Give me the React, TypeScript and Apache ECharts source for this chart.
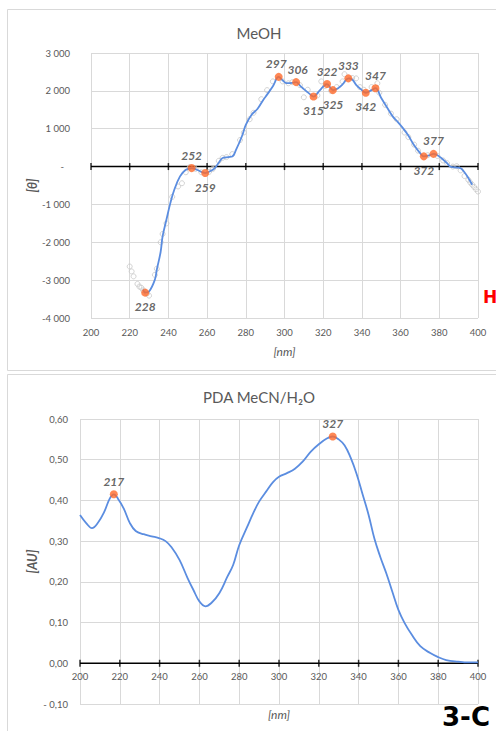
import React, { useEffect, useRef } from 'react';
import * as echarts from 'echarts';

// ---------- data ----------
const xTicks = [200, 220, 240, 260, 280, 300, 320, 340, 360, 380, 400];

// MeOH CD curve (smoothed, blue)
const meohCurveNm = [227, 228, 230, 233, 234, 236, 237, 239, 241, 243, 246, 249, 252, 255, 259, 262, 264, 266, 268, 271, 273, 275, 278, 280, 283, 286, 289, 291, 294, 297, 299, 301, 304, 306, 308, 310, 313, 315, 318, 320, 322, 325, 328, 330, 333, 335, 337, 340, 342, 345, 347, 350, 353, 356, 358, 361, 364, 367, 370, 372, 375, 377, 379, 381, 384, 386, 389, 391, 393, 395, 397];
const meohCurveVal = [-3250, -3330, -3300, -2990, -2725, -2250, -1845, -1400, -965, -620, -260, -85, -40, -90, -170, -110, -40, 100, 225, 250, 265, 445, 800, 1100, 1370, 1520, 1760, 1900, 2120, 2370, 2280, 2205, 2210, 2230, 2140, 2045, 1920, 1850, 2000, 2110, 2180, 2020, 2080, 2170, 2330, 2300, 2160, 2020, 1950, 2020, 2070, 1810, 1560, 1320, 1210, 1030, 820, 560, 360, 270, 300, 335, 300, 225, 90, -10, -25, -40, -150, -300, -480];

// MeOH raw data points (grey hollow circles)
const meohRawNm = [220, 221, 222, 224, 225, 226, 227, 229, 230, 233, 234, 236, 237, 239, 242, 245, 247, 249, 251, 254, 257, 261, 263, 266, 268, 270, 273, 277, 279, 282, 284, 288, 291, 294, 299, 302, 304, 308, 310, 312, 317, 319, 321, 324, 327, 330, 331, 335, 337, 339, 341, 345, 348, 349, 352, 355, 358, 362, 364, 367, 369, 374, 379, 382, 384, 387, 389, 391, 393, 395, 396, 397, 398, 399, 400];
const meohRawVal = [-2640, -2770, -2900, -3100, -3170, -3200, -3270, -3350, -3410, -2860, -2700, -2000, -1780, -1500, -800, -525, -440, -150, -20, -60, -150, -140, -60, 150, 230, 250, 330, 700, 900, 1250, 1420, 1780, 2020, 2250, 2250, 2200, 2230, 2150, 1830, 2030, 1880, 2250, 2130, 2000, 2100, 2250, 2440, 2340, 2330, 2100, 2030, 2100, 2200, 1950, 1630, 1400, 1250, 900, 780, 580, 420, 300, 280, 160, 90, 0, 10, -100, -250, -350, -420, -480, -540, -600, -660];

// MeOH labelled extrema
const meohPeakNm = [228, 252, 259, 297, 306, 315, 322, 325, 333, 342, 347, 372, 377];
const meohPeakVal = [-3330, -40, -170, 2370, 2230, 1850, 2180, 2020, 2330, 1950, 2070, 270, 335];
const meohPeakPos = ['bottom', 'top', 'bottom', 'top', 'top', 'bottom', 'top', 'bottom', 'top', 'bottom', 'top', 'bottom', 'top'];

// PDA absorbance curve
const pdaNm = [200, 203, 206, 209, 212, 215, 217, 219, 222, 225, 228, 232, 236, 240, 243, 246, 250, 254, 257, 260, 263, 266, 270, 274, 277, 280, 284, 287, 290, 294, 297, 300, 304, 308, 312, 316, 320, 324, 327, 330, 333, 336, 339, 342, 345, 348, 351, 354, 357, 360, 363, 367, 371, 376, 380, 384, 390, 395, 400];
const pdaAu = [0.364, 0.345, 0.332, 0.345, 0.370, 0.405, 0.415, 0.405, 0.380, 0.345, 0.325, 0.317, 0.312, 0.307, 0.300, 0.285, 0.254, 0.210, 0.180, 0.152, 0.140, 0.148, 0.172, 0.212, 0.242, 0.290, 0.335, 0.368, 0.397, 0.425, 0.445, 0.458, 0.467, 0.478, 0.496, 0.520, 0.538, 0.552, 0.557, 0.550, 0.535, 0.505, 0.465, 0.415, 0.365, 0.305, 0.260, 0.220, 0.175, 0.131, 0.100, 0.068, 0.042, 0.025, 0.015, 0.008, 0.004, 0.002, 0.002];

const pdaPeakNm = [217, 327];
const pdaPeakAu = [0.415, 0.557];

// ---------- styles ----------
const FONT = 'Lato, "Open Sans", sans-serif';
const GREY_TEXT = '#595959';
const GRID = '#d9d9d9';
const BLUE = '#5b8de0';
const ORANGE = '#ff6a2b';

const fmtTheta = (v: number) => {
  if (v === 0) return '{d|-}';
  const s = String(Math.abs(v)).replace(/\B(?=(\d{3})+(?!\d))/g, ' ');
  return (v < 0 ? '-' : '') + s;
};
const fmtAu = (v: number) => {
  const s = Math.abs(v).toFixed(2).replace('.', ',');
  return v < -1e-9 ? '- ' + s : s;
};

const peakLabel = (pos: string, dx = 0) => ({
  show: true,
  position: pos,
  distance: pos === 'top' ? 3 : 4,
  offset: [dx, 0],
  fontFamily: FONT,
  fontSize: 12,
  fontWeight: 'bold',
  fontStyle: 'italic',
  color: '#404040',
  formatter: (p: any) => String(p.value[0]),
});

// small horizontal nudges so neighbouring labels do not collide
const labelNudge = (nm: number) => (nm === 297 ? -2.5 : nm === 306 ? 1.5 : 0);

export default function App() {
  const ref = useRef<HTMLDivElement>(null);
  useEffect(() => {
    if (!ref.current) return;
    const chart = echarts.init(ref.current, undefined, { renderer: 'svg' });
    const axisLabel = { color: GREY_TEXT, fontFamily: FONT, fontSize: 9.5 };
    const xNameStyle = { color: GREY_TEXT, fontFamily: FONT, fontSize: 12, fontStyle: 'italic' };
    const yNameStyle = { color: GREY_TEXT, fontFamily: FONT, fontSize: 12.5, fontStyle: 'italic', fontWeight: 'bold' };

    chart.setOption({
      animation: false,
      backgroundColor: '#ffffff',
      title: [
        { text: 'MeOH', left: 254, top: 20, textAlign: 'center', textStyle: { color: GREY_TEXT, fontFamily: FONT, fontSize: 15, fontWeight: 'normal' } },
        { text: 'PDA MeCN/H₂O', left: 254, top: 384, textAlign: 'center', textStyle: { color: GREY_TEXT, fontFamily: FONT, fontSize: 15, fontWeight: 'normal' } },
      ],
      graphic: [
        { type: 'rect', shape: { x: 7.5, y: 9.5, width: 500, height: 361 }, style: { fill: 'none', stroke: GRID, lineWidth: 1 }, silent: true },
        { type: 'rect', shape: { x: 7.5, y: 374.5, width: 500, height: 370 }, style: { fill: 'none', stroke: GRID, lineWidth: 1 }, silent: true },
        { type: 'text', x: 483, y: 288, style: { text: 'H', fill: '#ff0000', font: 'bold 17px "DejaVu Sans", sans-serif' }, silent: true },
        { type: 'text', x: 442, y: 704, style: { text: '3-C', fill: '#000000', font: 'bold 26px "DejaVu Sans", sans-serif' }, silent: true },
      ],
      grid: [
        { left: 91, right: 18, top: 53, height: 265, outerBoundsMode: 'none', containLabel: false },
        { left: 80, right: 18, top: 419, height: 285, outerBoundsMode: 'none', containLabel: false },
      ],
      xAxis: [
        {
          gridIndex: 0, type: 'value', min: 200, max: 400, interval: 20,
          axisLine: { show: false, onZero: false }, axisTick: { show: false },
          axisLabel: { ...axisLabel, margin: 9 },
          splitLine: { show: true, lineStyle: { color: GRID, width: 1 } },
          name: '[nm]', nameLocation: 'middle', nameGap: 27, nameTextStyle: xNameStyle,
        },
        {
          gridIndex: 1, type: 'value', min: 200, max: 400, interval: 20,
          position: 'bottom', offset: -40.7,
          axisLine: { show: false, onZero: false }, axisTick: { show: false },
          axisLabel: { ...axisLabel, margin: 8 },
          splitLine: { show: true, lineStyle: { color: GRID, width: 1 } },
          name: '[nm]', nameLocation: 'middle', nameGap: 45, nameTextStyle: xNameStyle,
        },
      ],
      yAxis: [
        {
          gridIndex: 0, type: 'value', min: -4000, max: 3000, interval: 1000,
          axisLine: { show: false }, axisTick: { show: false },
          axisLabel: { ...axisLabel, margin: 21, formatter: fmtTheta, rich: { d: { color: GREY_TEXT, fontFamily: FONT, fontSize: 9.5, padding: [0, 6, 0, 0] } } },
          splitLine: { show: true, lineStyle: { color: GRID, width: 1 } },
          name: '[θ]', nameLocation: 'middle', nameGap: 52, nameMoveOverlap: false, nameTextStyle: yNameStyle,
        },
        {
          gridIndex: 1, type: 'value', min: -0.1, max: 0.6, interval: 0.1,
          axisLine: { show: false }, axisTick: { show: false },
          axisLabel: { ...axisLabel, margin: 12, formatter: fmtAu },
          splitLine: { show: true, lineStyle: { color: GRID, width: 1 } },
          name: '[AU]', nameLocation: 'middle', nameGap: 41, nameMoveOverlap: false, nameTextStyle: yNameStyle,
        },
      ],
      series: [
        // top: zero line and ticks
        {
          type: 'line', xAxisIndex: 0, yAxisIndex: 0, data: [[200, 0], [400, 0]],
          symbol: 'none', lineStyle: { color: '#000000', width: 1.5 }, silent: true, z: 3,
        },
        {
          type: 'scatter', xAxisIndex: 0, yAxisIndex: 0, data: xTicks.map((t) => [t, 0]),
          symbol: 'rect', symbolSize: [1.5, 7], itemStyle: { color: '#000000' }, silent: true, z: 3,
        },
        // top: raw points
        {
          type: 'scatter', xAxisIndex: 0, yAxisIndex: 0,
          data: meohRawNm.map((x, i) => [x, meohRawVal[i]]),
          symbol: 'circle', symbolSize: 5,
          itemStyle: { color: 'rgba(255,255,255,0)', borderColor: '#c8c8c8', borderWidth: 1 }, z: 4,
        },
        // top: smoothed curve
        {
          type: 'line', xAxisIndex: 0, yAxisIndex: 0,
          data: meohCurveNm.map((x, i) => [x, meohCurveVal[i]]),
          smooth: 0.4, symbol: 'none', lineStyle: { color: BLUE, width: 1.8 }, z: 5,
        },
        // top: extrema
        {
          type: 'scatter', xAxisIndex: 0, yAxisIndex: 0,
          data: meohPeakNm.map((x, i) => ({ value: [x, meohPeakVal[i]], label: peakLabel(meohPeakPos[i], labelNudge(x)) })),
          symbol: 'circle', symbolSize: 8, itemStyle: { color: ORANGE }, z: 6,
        },
        // bottom: zero line and ticks
        {
          type: 'line', xAxisIndex: 1, yAxisIndex: 1, data: [[200, 0], [400, 0]],
          symbol: 'none', lineStyle: { color: '#000000', width: 1.5 }, silent: true, z: 3,
        },
        {
          type: 'scatter', xAxisIndex: 1, yAxisIndex: 1, data: xTicks.map((t) => [t, 0]),
          symbol: 'rect', symbolSize: [1.5, 7], itemStyle: { color: '#000000' }, silent: true, z: 3,
        },
        // bottom: curve
        {
          type: 'line', xAxisIndex: 1, yAxisIndex: 1,
          data: pdaNm.map((x, i) => [x, pdaAu[i]]),
          smooth: 0.4, symbol: 'none', lineStyle: { color: BLUE, width: 1.8 }, z: 5,
        },
        // bottom: peaks
        {
          type: 'scatter', xAxisIndex: 1, yAxisIndex: 1,
          data: pdaPeakNm.map((x, i) => ({ value: [x, pdaPeakAu[i]], label: peakLabel('top') })),
          symbol: 'circle', symbolSize: 8, itemStyle: { color: ORANGE }, z: 6,
        },
      ],
    });
    return () => chart.dispose();
  }, []);
  return <div ref={ref} style={{ position: 'fixed', left: 0, top: 0, width: 496, height: 731 }} />;
}
